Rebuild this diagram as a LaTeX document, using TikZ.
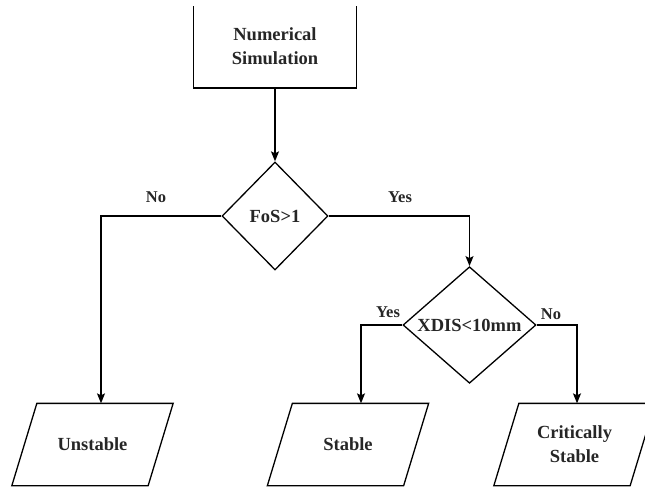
\documentclass[tikz,border=0pt]{standalone}
\usepackage{fontspec}
\setmainfont{Liberation Serif}
\usetikzlibrary{shapes.geometric,arrows.meta,calc}
\begin{document}
\begin{tikzpicture}[x=1bp,y=-1bp, line width=1.3bp,
 txt/.style={font=\bfseries\fontsize{18.5bp}{24bp}\selectfont, text=black!85, align=center},
 box/.style={draw, txt, minimum width=163bp, minimum height=83bp, inner sep=0},
 dec/.style={draw, diamond, txt, inner sep=0},
 para/.style={txt, minimum width=160bp, minimum height=81bp, inner sep=0},
 lbl/.style={font=\bfseries\fontsize{16.5bp}{20bp}\selectfont, text=black!85},
 arr/.style={-{Stealth[length=10bp,width=8bp,inset=2bp]}}]
\useasboundingbox (0,0) rectangle (645,487);
\clip (0,7) rectangle (645,487);
\node[box] (sim) at (275,46.5) {Numerical\\Simulation};
\node[dec, minimum width=106bp, minimum height=108bp] (d1) at (275,216) {FoS>1};
\node[dec, minimum width=133bp, minimum height=110bp] (d2) at (469.5,325) {XDIS<10mm};
\node[para] (u) at (92.5,444.5) {Unstable};
\node[para] (s) at (348,444.5) {Stable};
\node[para] (c) at (574.5,444.5) {Critically\\Stable};
\foreach \p in {u,s,c}
  \draw ($(\p.north west)+(25,0)$) -- (\p.north east) -- ($(\p.south east)+(-25,0)$) -- (\p.south west) -- cycle;
\draw[arr] (sim) -- (d1);
\draw[arr] (d1.west) -| ([xshift=8.5bp]u.north);
\draw[arr] (d1.east) -| (d2.north);
\draw[arr] (d2.west) -| ([xshift=13bp]s.north);
\draw[arr] (d2.east) -| ([xshift=2.5bp]c.north);
\node[lbl] (no1) at (156,197) {No};
\node[lbl] (yes1) at (400,197) {Yes};
\node[lbl] (yes2) at (388,312) {Yes};
\node[lbl] (no2) at (551,314) {No};
\end{tikzpicture}
\end{document}
